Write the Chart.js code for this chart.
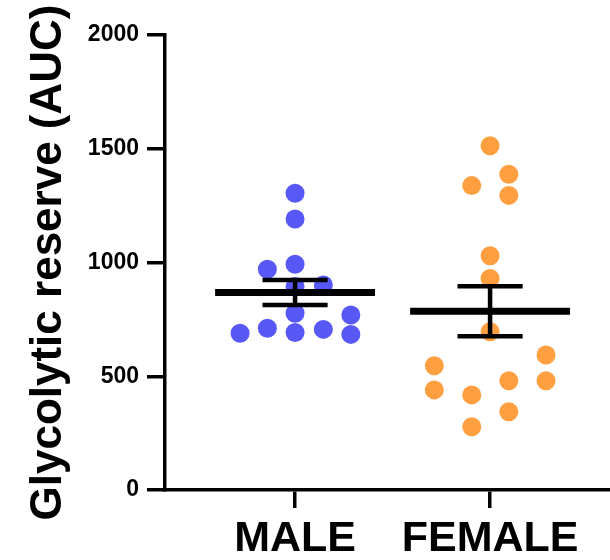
<!DOCTYPE html>
<html>
<head>
<meta charset="utf-8">
<script src="https://cdn.jsdelivr.net/npm/chart.js@4"></script>
<style>
  html, body { margin:0; padding:0; background:#fff; overflow:hidden; }
  canvas { display:block; }
</style>
</head>
<body>
<canvas id="chart" width="610" height="565"></canvas>
<script>
// groups on the x axis (placed at 1 and 2)
const categories = ["MALE", "FEMALE"];
const yTicks = [0, 500, 1000, 1500, 2000];

// individual animals, with horizontal scatter offsets (in category units)
const maleValues  = [1304, 1191, 970, 992, 901, 894, 777, 769, 689, 711, 692, 706, 684];
const maleJitter  = [0, 0, -0.142, 0, 0.145, 0, 0, 0.286, -0.282, -0.142, 0, 0.145, 0.286];
const femaleValues = [1513, 1388, 1338, 1295, 1030, 930, 696, 593, 546, 480, 480, 440, 418, 344, 278];
const femaleJitter = [0, 0.096, -0.094, 0.096, 0, 0, 0, 0.287, -0.286, 0.287, 0.096, -0.286, -0.094, 0.096, -0.094];

// mean +/- SEM per group
const means = [868, 786];
const sems  = [55, 110];

const C = { blue:"#5858F6", orange:"#FF9F40", ink:"#000000" };
const FONT = "'Liberation Sans', Arial, sans-serif";
const MEAN_HALF = 0.41, CAP_HALF = 0.167;

const pts = (vals, jit, g) => vals.map((v,i) => ({ x: g + jit[i], y: v }));

const meanData = [];
const whiskerData = [];
means.forEach((m,i) => {
  const g = i + 1, s = sems[i];
  meanData.push({x:g-MEAN_HALF, y:m}, {x:g+MEAN_HALF, y:m}, {x:g, y:null});
  whiskerData.push(
    {x:g-CAP_HALF, y:m+s}, {x:g+CAP_HALF, y:m+s}, {x:g, y:null},
    {x:g, y:m+s}, {x:g, y:m-s}, {x:g, y:null},
    {x:g-CAP_HALF, y:m-s}, {x:g+CAP_HALF, y:m-s}, {x:g, y:null}
  );
});

const lineSet = (data, w) => ({
  data, showLine:true, spanGaps:false, borderColor:C.ink, borderWidth:w,
  pointRadius:0, pointHoverRadius:0, borderCapStyle:"butt", fill:false
});

new Chart(document.getElementById("chart"), {
  type:"scatter",
  data:{ datasets:[
    lineSet(meanData, 7),
    lineSet(whiskerData, 4.5),
    { data:pts(maleValues, maleJitter, 1), backgroundColor:C.blue, borderWidth:0, pointRadius:9.5, pointHoverRadius:9.5 },
    { data:pts(femaleValues, femaleJitter, 2), backgroundColor:C.orange, borderWidth:0, pointRadius:9.5, pointHoverRadius:9.5 }
  ]},
  options:{
    responsive:false, animation:false, devicePixelRatio:1,
    layout:{ autoPadding:false, padding:{ left:22, top:35, right:0, bottom:0 } },
    plugins:{ legend:{ display:false }, tooltip:{ enabled:false } },
    scales:{
      x:{
        type:"linear", min:0.333, max:2.615,
        afterBuildTicks: s => { s.ticks = categories.map((c,i)=>({ value:i+1 })); },
        afterFit: s => { s.height = 75; s.paddingLeft = 0; s.paddingRight = 0; },
        grid:{ drawOnChartArea:false, drawTicks:true, tickLength:18, color:C.ink, lineWidth:3.5 },
        border:{ display:true, color:C.ink, width:3.5 },
        ticks:{ padding:5, color:C.ink, maxRotation:0, autoSkip:false,
          font:{ family:FONT, size:43, weight:"bold" },
          callback: v => categories[v-1] }
      },
      y:{
        min:0, max:2000,
        afterBuildTicks: s => { s.ticks = yTicks.map(v=>({ value:v })); },
        afterFit: s => { s.width = 143; },
        grid:{ drawOnChartArea:false, drawTicks:true, tickLength:18, color:C.ink, lineWidth:3.5 },
        border:{ display:true, color:C.ink, width:3.5 },
        ticks:{ padding:8, color:C.ink, font:{ family:FONT, size:23, weight:"bold" },
          callback: v => String(v) },
        title:{ display:true, text:"Glycolytic reserve (AUC)", color:C.ink, padding:0,
          font:{ family:FONT, size:44, weight:"bold" } }
      }
    }
  }
});
</script>
</body>
</html>
